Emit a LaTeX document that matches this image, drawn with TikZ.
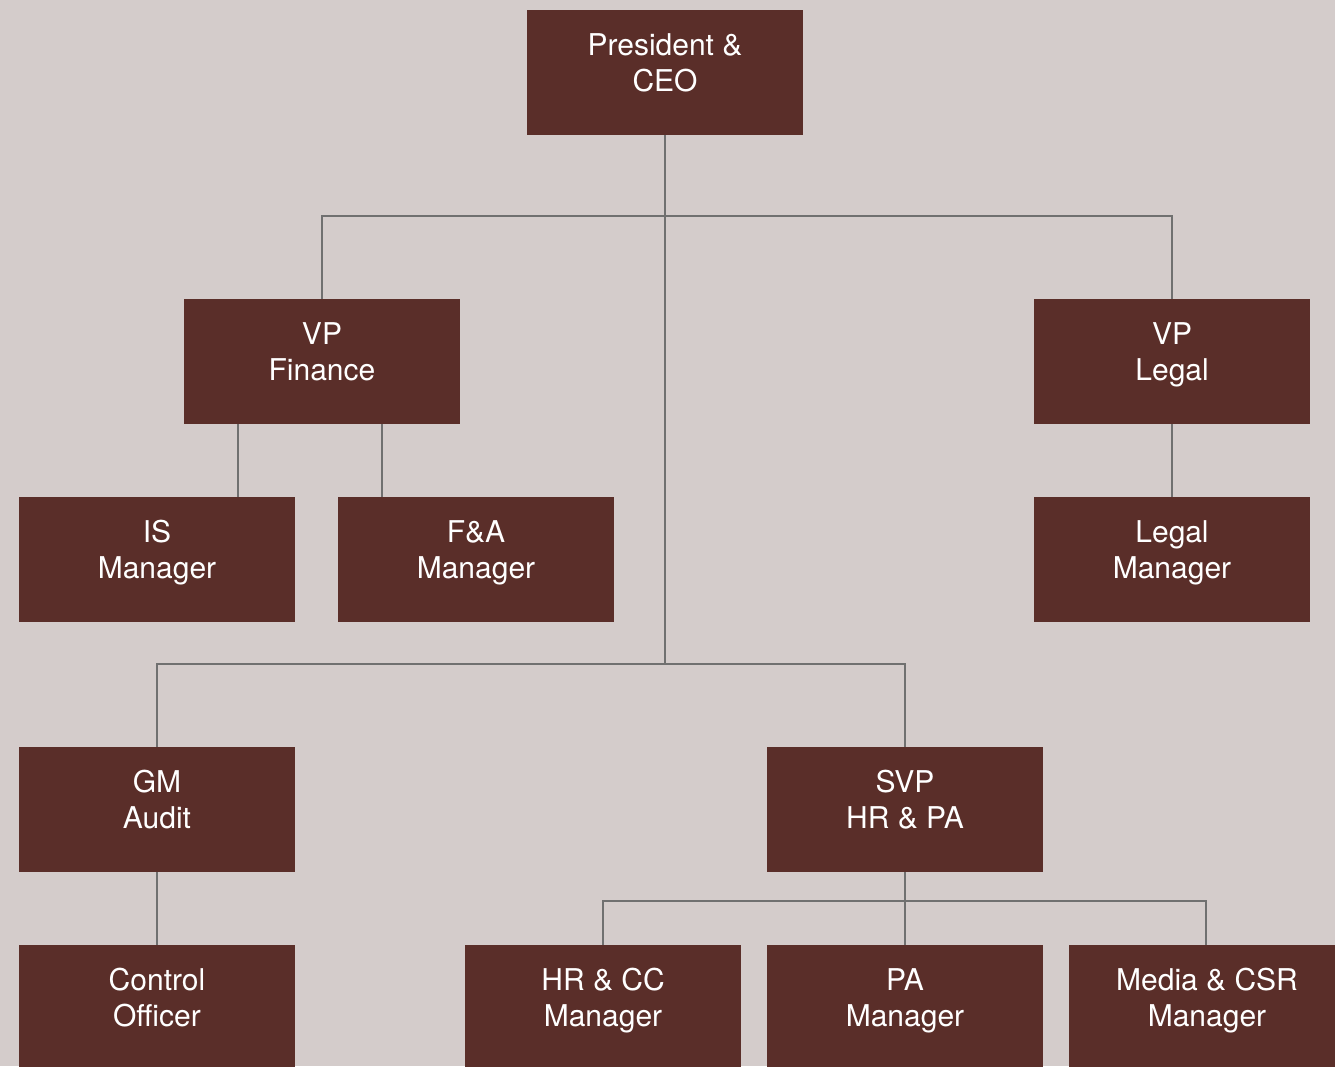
\documentclass[tikz,border=0pt]{standalone}
\usepackage{fontspec}
\setmainfont{TeX Gyre Heros}
\definecolor{pagebg}{HTML}{D4CCCB}
\definecolor{boxfill}{HTML}{5A2E29}
\definecolor{linkgray}{HTML}{707070}
\tikzset{
  unit/.style={rectangle, fill=boxfill, text=white, inner sep=0pt,
    minimum width=276pt, minimum height=125pt, align=center,
    font=\fontsize{30pt}{36pt}\selectfont, text height=58pt, text depth=19.6pt},
  link/.style={draw=linkgray, line width=1.3pt}
}
\begin{document}
\begin{tikzpicture}[x=1pt, y=-1pt]
  \useasboundingbox (0,0) rectangle (1335,1066);
  \fill[pagebg] (0,0) rectangle (1335,1066);
  \clip (0,0) rectangle (1335,1066);

  % bus junctions
  \coordinate (topbus) at (665,216);
  \coordinate (midbus) at (665,664);
  \coordinate (hrbus) at (905,901);

  % boxes
  \node[unit] (ceo)   at (665,72.5)   {President \&\\CEO};
  \node[unit] (vpf)   at (322,361.5)  {VP\\Finance};
  \node[unit] (vpl)   at (1172,361.5) {VP\\Legal};
  \node[unit] (ism)   at (157,559.5)  {IS\\Manager};
  \node[unit] (fam)   at (476,559.5)  {F\&A\\Manager};
  \node[unit] (lgm)   at (1172,559.5) {Legal\\Manager};
  \node[unit] (gma)   at (157,809.5)  {GM\\Audit};
  \node[unit] (svp)   at (905,809.5)  {SVP\\HR \& PA};
  \node[unit] (ctl)   at (157,1007.5) {Control\\Officer};
  \node[unit] (hrcc)  at (603,1007.5) {HR \& CC\\Manager};
  \node[unit] (pam)   at (905,1007.5) {PA\\Manager};
  \node[unit] (media) at (1207,1007.5) {Media \& CSR\\Manager};

  % top level
  \draw[link] (ceo.south) -- (midbus);
  \draw[link] (topbus) -| (vpf.north);
  \draw[link] (topbus) -| (vpl.north);
  \draw[link] (midbus) -| (gma.north);
  \draw[link] (midbus) -| (svp.north);

  % finance
  \draw[link] (vpf.south -| 238,0) -- (ism.north -| 238,0);
  \draw[link] (vpf.south -| 382,0) -- (fam.north -| 382,0);

  % legal and audit
  \draw[link] (vpl.south) -- (lgm.north);
  \draw[link] (gma.south) -- (ctl.north);

  % HR & PA
  \draw[link] (svp.south) -- (pam.north);
  \draw[link] (hrbus) -| (hrcc.north);
  \draw[link] (hrbus) -| (media.north -| 1206,0);
\end{tikzpicture}
\end{document}
